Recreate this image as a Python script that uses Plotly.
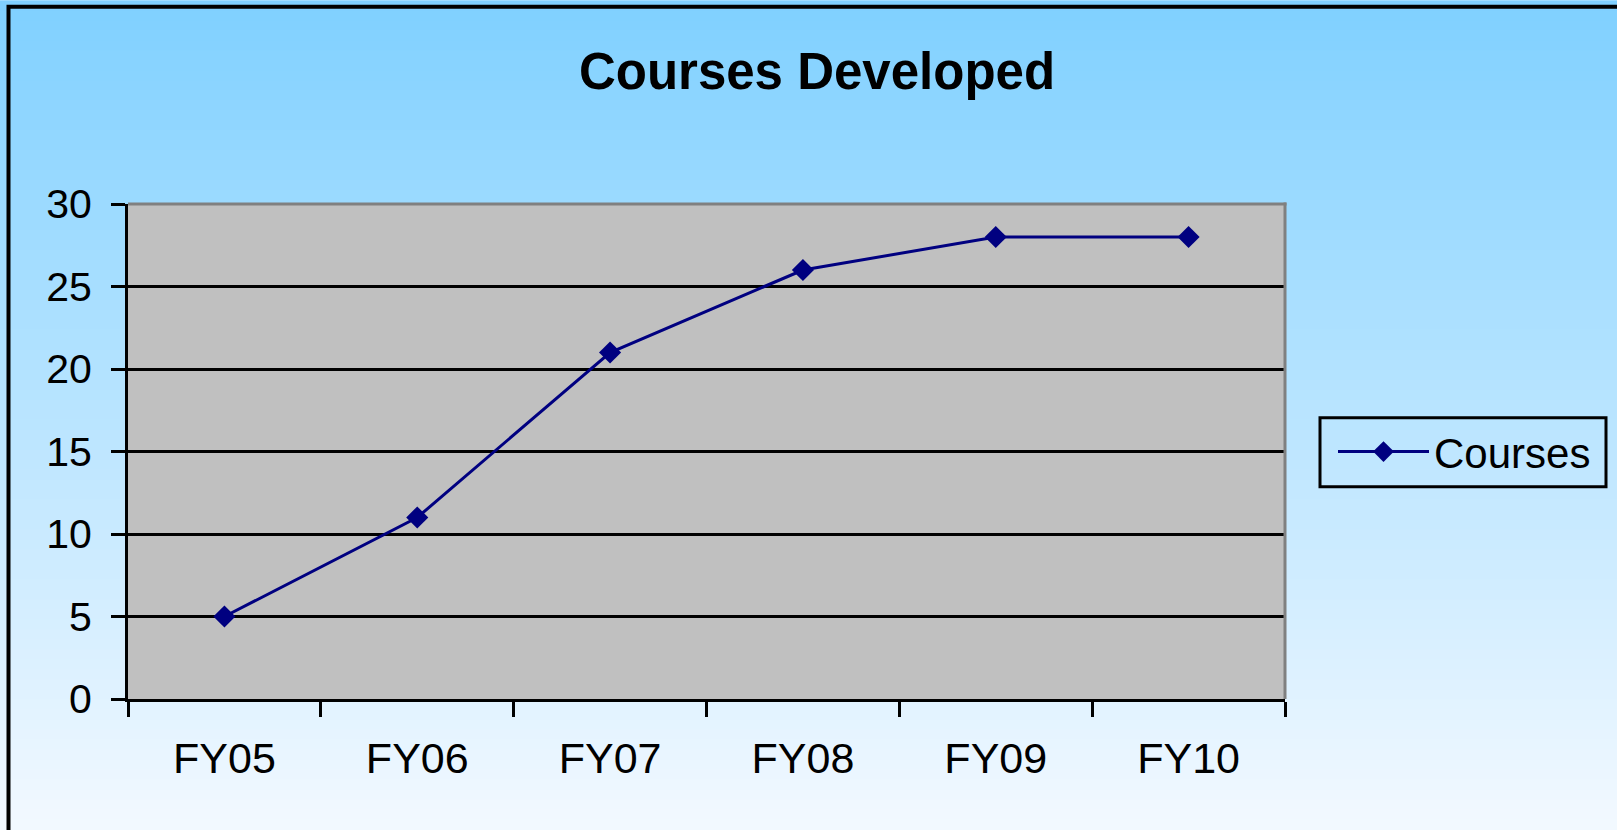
import plotly.graph_objects as go

# ---- data ----
categories = ["FY05", "FY06", "FY07", "FY08", "FY09", "FY10"]
courses = [5, 11, 21, 26, 28, 28]
y_ticks = [0, 5, 10, 15, 20, 25, 30]
series_name = "Courses"
title_text = "Courses Developed"

# ---- geometry (pixels) ----
W, H = 1617, 830
L, R, T, B = 128, 1285, 204, 699.5

def px(x):
    return (x - L) / (R - L)

def py(y):
    return (B - y) / (B - T)

FONT = "Arial, Liberation Sans, sans-serif"
NAVY = "#000080"

fig = go.Figure()
fig.add_trace(go.Scatter(
    x=categories, y=courses, name=series_name, mode="lines+markers",
    line=dict(color=NAVY, width=3),
    marker=dict(symbol="diamond", size=17, color=NAVY),
))

shapes = []
# background vertical gradient
top_c = (127, 208, 255)
bot_c = (243, 249, 255)
step = 10
for y0 in range(0, H, step):
    t = (y0 + step / 2) / H
    c = tuple(round(a + (b - a) * t) for a, b in zip(top_c, bot_c))
    shapes.append(dict(type="rect", xref="paper", yref="paper",
                       x0=px(-5), x1=px(W + 5), y0=py(y0 + step + 1), y1=py(y0),
                       fillcolor="rgb(%d,%d,%d)" % c, line=dict(width=0), layer="below"))
# plot area
shapes.append(dict(type="rect", xref="paper", yref="paper", x0=0, x1=1, y0=0, y1=1,
                   fillcolor="#C0C0C0", line=dict(width=0), layer="below"))
# outer frame
shapes.append(dict(type="rect", xref="paper", yref="paper",
                   x0=px(8.5), x1=px(W + 50), y0=py(H + 50), y1=py(6.5),
                   fillcolor="rgba(0,0,0,0)", line=dict(color="black", width=4), layer="above"))
# gray top/right border of plot area
shapes.append(dict(type="line", xref="paper", yref="paper", x0=0, x1=px(R + 1.5), y0=py(T), y1=py(T),
                   line=dict(color="#808080", width=3), layer="above"))
shapes.append(dict(type="line", xref="paper", yref="paper", x0=px(R), x1=px(R), y0=py(B), y1=py(T - 1.5),
                   line=dict(color="#808080", width=3), layer="above"))
# legend frame
shapes.append(dict(type="rect", xref="paper", yref="paper",
                   x0=px(1320), x1=px(1606), y0=py(487), y1=py(418),
                   fillcolor="rgba(0,0,0,0)", line=dict(color="black", width=3), layer="above"))

fig.update_layout(
    width=W, height=H,
    margin=dict(l=L, r=W - R, t=T, b=H - B, pad=0, autoexpand=False),
    paper_bgcolor="white",
    plot_bgcolor="rgba(0,0,0,0)",
    font=dict(family=FONT, size=42, color="black"),
    title=dict(text="<b>" + title_text + "</b>", x=817 / W, xanchor="center",
               xref="container", yref="container", y=1 - 71 / H, yanchor="middle",
               font=dict(family=FONT, size=51, color="black")),
    shapes=shapes,
    showlegend=True,
    legend=dict(x=px(1333), xanchor="left", y=py(452), yanchor="middle",
                bgcolor="rgba(0,0,0,0)", borderwidth=0,
                font=dict(family=FONT, size=42, color="black"), itemwidth=91),
)
fig.update_xaxes(
    type="category", range=[-0.5, len(categories) - 0.5],
    tickson="boundaries", ticks="outside", ticklen=15, tickwidth=3,
    tickcolor="black", showline=True, linecolor="black", linewidth=3,
    showgrid=False, zeroline=False, ticklabelstandoff=19,
    tickfont=dict(family=FONT, size=43, color="black"),
)
fig.update_yaxes(
    range=[0, 30], tickvals=y_ticks, ticks="outside", ticklen=14, tickwidth=3,
    tickcolor="black", showline=True, linecolor="black", linewidth=3,
    showgrid=True, gridcolor="black", gridwidth=3, zeroline=False,
    ticklabelstandoff=11,
    tickfont=dict(family=FONT, size=41, color="black"),
)

fig.write_html("out.html", config={"displayModeBar": False},
               post_script="document.body.style.margin='0';")
